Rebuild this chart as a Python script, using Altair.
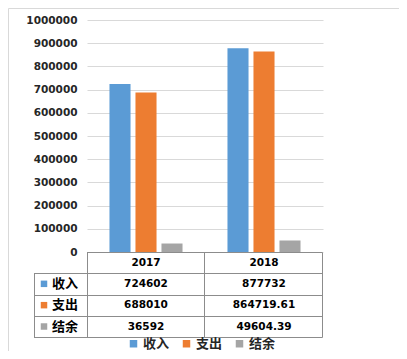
import altair as alt
import pandas as pd

years = ["2017", "2018"]
series = ["收入", "支出", "结余"]
income = [724602, 877732]
expense = [688010, 864719.61]
balance = [36592, 49604.39]
colors = ["#5b9bd5", "#ed7d31", "#a5a5a5"]
y_ticks = [0, 100000, 200000, 300000, 400000, 500000, 600000, 700000, 800000, 900000, 1000000]

rows = []
for s, vals in zip(series, [income, expense, balance]):
    for yr, v in zip(years, vals):
        rows.append({"year": yr, "series": s, "value": v, "row": s, "label": str(v)})
df = pd.DataFrame(rows)
hdr = pd.DataFrame({"year": years, "row": ["hdr"] * len(years), "label": years})
tbl = pd.concat([df[["year", "row", "label"]], hdr], ignore_index=True)
rowlab = pd.DataFrame({"series": series, "row": series})

W, H = 236, 232
NUMFONT = "DejaVu Sans"
CJK = "Noto Sans CJK SC"
LINE = "#8c8c8c"

xscale = alt.Scale(domain=years, paddingInner=0.339, paddingOuter=0.1695)
rowscale = alt.Scale(type="point", domain=["hdr"] + series, range=[242.5, 306.5], padding=0)
cscale = alt.Scale(domain=series, range=colors)

bars = alt.Chart(df).mark_bar().encode(
    x=alt.X("year:N", scale=xscale, axis=None),
    xOffset=alt.XOffset("series:N", scale=alt.Scale(domain=series, paddingInner=0.19, paddingOuter=0.095)),
    y=alt.Y("value:Q", scale=alt.Scale(domain=[0, 1000000], nice=False),
            axis=alt.Axis(values=y_ticks, format="d", title=None, domain=False, ticks=False,
                          labelPadding=10, labelFont=NUMFONT, labelFontWeight="bold",
                          labelFontSize=10.5, labelColor="#262626", gridColor="#d9d9d9",
                          labelOverlap=False)),
    color=alt.Color("series:N", scale=cscale,
                    legend=alt.Legend(title=None, orient="none", legendX=40, legendY=317,
                                      direction="horizontal", symbolType="square",
                                      symbolSize=56, symbolStrokeWidth=0,
                                      labelFont=CJK, labelFontWeight="bold", labelFontSize=13,
                                      labelColor="#262626", columnPadding=10, labelOffset=3,
                                      padding=0)),
)

cells = alt.Chart(tbl).mark_text(font=NUMFONT, fontWeight="bold", fontSize=10.5, color="#000000").encode(
    x=alt.X("year:N", scale=xscale, axis=None),
    y=alt.Y("row:N", scale=rowscale, axis=None),
    text="label:N",
)

rlabels = alt.Chart(rowlab).mark_text(font=CJK, fontWeight="bold", fontSize=13, align="left",
                                     color="#000000").encode(
    x=alt.value(-35),
    y=alt.Y("row:N", scale=rowscale, axis=None),
    text="series:N",
)

rsquares = alt.Chart(rowlab).mark_square(size=42, opacity=1, strokeWidth=0).encode(
    x=alt.value(-43),
    y=alt.Y("row:N", scale=rowscale, axis=None),
    color=alt.Color("series:N", scale=cscale),
)

dummy = alt.Data(values=[{}])
lines = []
for yy, x0 in [(232, 0), (253, -53), (275, -53), (296, -53), (317, -53)]:
    lines.append(alt.Chart(dummy).mark_rule(color=LINE, strokeWidth=1).encode(
        x=alt.value(x0), x2=alt.value(235.5), y=alt.value(yy + 0.5)))
for xx, y0 in [(-53, 253), (0, 232), (117, 232), (235, 232)]:
    lines.append(alt.Chart(dummy).mark_rule(color=LINE, strokeWidth=1).encode(
        x=alt.value(xx + 0.5), y=alt.value(y0 + 0.5), y2=alt.value(317.5)))

border = alt.Chart(dummy).mark_rect(filled=False, stroke="#d9d9d9", strokeWidth=1).encode(
    x=alt.value(-78.5), x2=alt.value(312.5), y=alt.value(-11.5), y2=alt.value(333.5))

chart = alt.layer(border, bars, *lines, cells, rlabels, rsquares).resolve_scale(
    y="independent"
).properties(
    width=W, height=H,
    autosize=alt.AutoSizeParams(type="none"),
    padding={"left": 79, "top": 12, "right": 76, "bottom": 99},
).configure_view(stroke=None)

chart.save("out.html", embed_options={"renderer": "svg", "actions": False})
